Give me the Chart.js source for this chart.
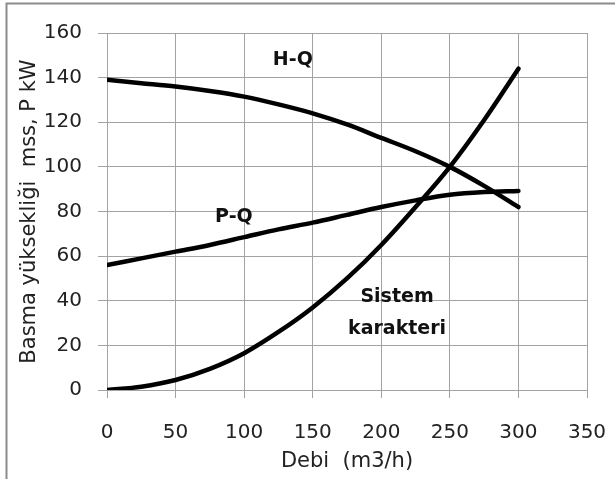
<!DOCTYPE html>
<html>
<head>
<meta charset="utf-8">
<script src="https://cdn.jsdelivr.net/npm/chart.js@4/dist/chart.umd.min.js"></script>
<style>
  html, body { margin: 0; padding: 0; background: #fff; }
  #wrap { width: 615px; height: 479px; position: relative; }
</style>
</head>
<body>
<div id="wrap"><canvas id="c" width="615" height="479"></canvas></div>
<script>
// ---- data ----
const flow = [0, 25, 50, 75, 100, 125, 150, 175, 200, 225, 250, 275, 300];
const headHQ = [139, 137.5, 136, 134, 131.5, 128, 124, 119, 113, 107, 100, 91.5, 82];
const powerPQ = [56, 59, 62, 65, 68.5, 72, 75, 78.5, 82, 85, 87.5, 88.7, 89.2];
const systemCurve = [0, 1.5, 4.5, 9.5, 16.5, 26, 37, 50, 65, 82, 100, 121, 144];

const xTicks = [0, 50, 100, 150, 200, 250, 300, 350];
const yTicks = [0, 20, 40, 60, 80, 100, 120, 140, 160];

const xTitle = 'Debi  (m3/h)';
const yTitle = 'Basma yüksekliği  mss, P kW';

// curve labels: text lines and anchor in data coordinates
const labelTexts = [['H-Q'], ['P-Q'], ['Sistem', 'karakteri']];
const labelAnchors = [[135.5, 148], [92.5, 77.6], [211.5, 34.5]];

function pts(ys) { return flow.map((x, i) => ({ x: x, y: ys[i] })); }

const FONT = 'DejaVu Sans';
const GRID = '#a3a3a3';

const frame = {
  id: 'frame',
  beforeDraw(chart) {
    const ctx = chart.ctx;
    ctx.save();
    ctx.fillStyle = '#fff';
    ctx.fillRect(0, 0, chart.width, chart.height);
    ctx.strokeStyle = '#8c8c8c';
    ctx.lineWidth = 2;
    ctx.beginPath();
    ctx.moveTo(6.5, chart.height + 5);
    ctx.lineTo(6.5, 3.5);
    ctx.lineTo(chart.width + 5, 3.5);
    ctx.stroke();
    ctx.restore();
  }
};

const curveLabels = {
  id: 'curveLabels',
  afterDatasetsDraw(chart) {
    const ctx = chart.ctx;
    const xs = chart.scales.x, ys = chart.scales.y;
    ctx.save();
    ctx.font = 'bold 19px "' + FONT + '"';
    ctx.fillStyle = '#111';
    ctx.textAlign = 'center';
    ctx.textBaseline = 'middle';
    labelTexts.forEach((lines, i) => {
      const cx = xs.getPixelForValue(labelAnchors[i][0]);
      const cy = ys.getPixelForValue(labelAnchors[i][1]);
      const lh = 32;
      const y0 = cy - (lines.length - 1) * lh / 2;
      lines.forEach((t, j) => ctx.fillText(t, cx, y0 + j * lh));
    });
    ctx.restore();
  }
};

const lineStyle = {
  borderColor: '#000',
  borderWidth: 4.5,
  pointRadius: 0,
  fill: false,
  cubicInterpolationMode: 'monotone',
  borderCapStyle: 'round',
  borderJoinStyle: 'round'
};

new Chart(document.getElementById('c'), {
  type: 'line',
  data: {
    datasets: [
      Object.assign({ label: 'H-Q', data: pts(headHQ) }, lineStyle),
      Object.assign({ label: 'P-Q', data: pts(powerPQ) }, lineStyle),
      Object.assign({ label: 'Sistem karakteri', data: pts(systemCurve) }, lineStyle)
    ]
  },
  options: {
    responsive: false,
    animation: false,
    devicePixelRatio: 1,
    layout: { padding: { top: 33, right: 28, left: 0, bottom: 0 } },
    plugins: { legend: { display: false }, tooltip: { enabled: false } },
    scales: {
      x: {
        type: 'linear',
        min: 0, max: 350,
        afterBuildTicks(s) { s.ticks = xTicks.map(v => ({ value: v })); },
        afterFit(s) { s.height = 89; s.paddingLeft = 0; s.paddingRight = 0; },
        grid: { color: GRID, lineWidth: 1, tickLength: 8, drawTicks: true },
        border: { display: true, color: GRID, width: 1 },
        ticks: { padding: 23, color: '#222', font: { family: FONT, size: 20 }, maxRotation: 0 },
        title: { display: true, text: xTitle, color: '#222', font: { family: FONT, size: 21 }, padding: { top: 0, bottom: 5 } }
      },
      y: {
        type: 'linear',
        min: 0, max: 160,
        afterBuildTicks(s) { s.ticks = yTicks.map(v => ({ value: v })); },
        afterFit(s) { s.width = 107; s.paddingTop = 0; s.paddingBottom = 0; },
        grid: { color: GRID, lineWidth: 1, tickLength: 9, drawTicks: true },
        border: { display: true, color: GRID, width: 1 },
        ticks: { padding: 16, color: '#222', font: { family: FONT, size: 20 } },
        title: { display: true, text: yTitle, color: '#222', font: { family: FONT, size: 21 }, padding: { top: 17, bottom: 0 } }
      }
    }
  },
  plugins: [frame, curveLabels]
});
</script>
</body>
</html>
